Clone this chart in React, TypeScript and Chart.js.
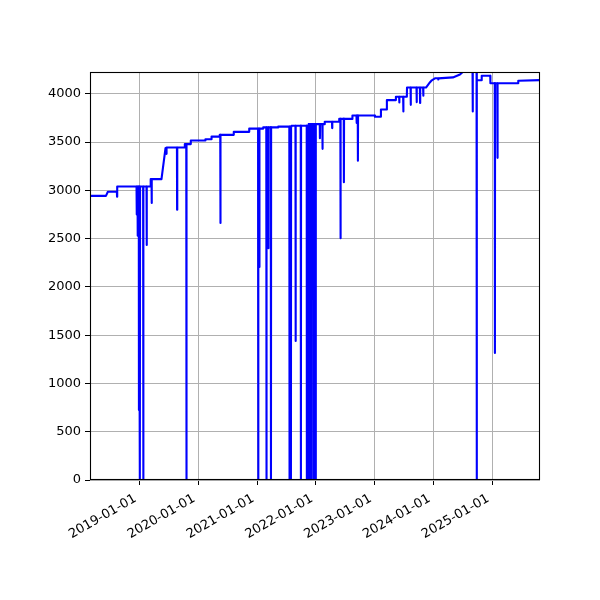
import React, { useEffect, useRef } from "react";
import { Chart, registerables } from "chart.js";

Chart.register(...registerables);

const dates: string[] = [
  "2018-02-28", "2018-06-07", "2018-06-19", "2018-08-14", "2018-08-15", "2018-08-16",
  "2018-12-14", "2018-12-15", "2018-12-16", "2018-12-20", "2018-12-21", "2018-12-22",
  "2018-12-28", "2018-12-29", "2018-12-30", "2019-01-03", "2019-01-04", "2019-01-05",
  "2019-01-24", "2019-01-25", "2019-01-26", "2019-02-14", "2019-02-15", "2019-02-16",
  "2019-03-11", "2019-03-12", "2019-03-17", "2019-03-18", "2019-03-19", "2019-05-18",
  "2019-06-12", "2019-06-17", "2019-06-18", "2019-06-19", "2019-08-22", "2019-08-23",
  "2019-08-24", "2019-10-09", "2019-10-10", "2019-10-19", "2019-10-20", "2019-10-21",
  "2019-11-15", "2019-11-16", "2020-02-14", "2020-02-15", "2020-03-23", "2020-03-24",
  "2020-05-13", "2020-05-14", "2020-05-17", "2020-05-18", "2020-05-19", "2020-08-08",
  "2020-08-09", "2020-11-12", "2020-11-13", "2021-01-07", "2021-01-08", "2021-01-09",
  "2021-01-14", "2021-01-15", "2021-01-16", "2021-02-07", "2021-02-08", "2021-02-27",
  "2021-02-28", "2021-03-01", "2021-03-11", "2021-03-12", "2021-03-13", "2021-03-27",
  "2021-03-28", "2021-03-29", "2021-05-11", "2021-05-12", "2021-07-20", "2021-07-21",
  "2021-07-22", "2021-07-29", "2021-07-30", "2021-07-31", "2021-08-02", "2021-08-03",
  "2021-08-27", "2021-08-28", "2021-08-29", "2021-09-29", "2021-09-30", "2021-10-01",
  "2021-11-05", "2021-11-06", "2021-11-07", "2021-11-14", "2021-11-15", "2021-11-18",
  "2021-11-19", "2021-11-20", "2021-11-26", "2021-11-27", "2021-11-28", "2021-12-03",
  "2021-12-04", "2021-12-05", "2021-12-10", "2021-12-11", "2021-12-12", "2021-12-17",
  "2021-12-18", "2021-12-19", "2021-12-23", "2021-12-24", "2021-12-25", "2021-12-30",
  "2021-12-31", "2022-01-01", "2022-01-25", "2022-01-26", "2022-01-27", "2022-02-10",
  "2022-02-11", "2022-02-12", "2022-02-24", "2022-02-25", "2022-04-11", "2022-04-12",
  "2022-04-13", "2022-05-25", "2022-05-26", "2022-06-02", "2022-06-03", "2022-06-04",
  "2022-06-23", "2022-06-24", "2022-06-25", "2022-08-15", "2022-08-16", "2022-09-10",
  "2022-09-11", "2022-09-12", "2022-09-18", "2022-09-19", "2022-09-20", "2023-01-02",
  "2023-01-03", "2023-02-08", "2023-02-09", "2023-03-17", "2023-03-18", "2023-05-12",
  "2023-05-13", "2023-06-02", "2023-06-03", "2023-06-04", "2023-06-27", "2023-06-28",
  "2023-06-29", "2023-07-20", "2023-07-21", "2023-08-12", "2023-08-13", "2023-08-14",
  "2023-09-18", "2023-09-19", "2023-09-20", "2023-10-09", "2023-10-10", "2023-10-11",
  "2023-10-29", "2023-10-30", "2023-10-31", "2023-11-16", "2023-12-11", "2023-12-22",
  "2024-01-13", "2024-01-30", "2024-01-31", "2024-02-01", "2024-05-01", "2024-06-14",
  "2024-07-01", "2024-08-31", "2024-09-01", "2024-09-02", "2024-09-25", "2024-09-26",
  "2024-09-27", "2024-10-26", "2024-10-27", "2024-12-19", "2024-12-20", "2025-01-16",
  "2025-01-17", "2025-01-18", "2025-02-01", "2025-02-02", "2025-02-03", "2025-06-10",
  "2025-06-11", "2025-10-24",
];

const values: number[] = [
  2943, 2943, 2985, 2985, 2935, 3040,
  3040, 2750, 3040, 3040, 2530, 3040,
  3040, 725, 3040, 3040, 0, 3040,
  3040, 0, 3040, 3040, 2435, 3040,
  3040, 3116, 3116, 2870, 3116, 3116,
  3437, 3437, 3378, 3444, 3444, 2800,
  3444, 3444, 3479, 3479, 0, 3479,
  3479, 3516, 3516, 3530, 3530, 3557,
  3557, 3575, 3575, 2663, 3575, 3575,
  3606, 3606, 3640, 3640, 0, 3640,
  3640, 2207, 3640, 3640, 3652, 3652,
  0, 3652, 3652, 2400, 3652, 3652,
  0, 3652, 3652, 3660, 3660, 0,
  3660, 3660, 0, 3660, 3660, 3670,
  3670, 1440, 3670, 3670, 0, 3670,
  3670, 0, 3670, 3670, 3686, 3686,
  0, 3686, 3686, 0, 3686, 3686,
  0, 3686, 3686, 2466, 3686, 3686,
  0, 3686, 3686, 0, 3686, 3686,
  0, 3686, 3686, 3541, 3686, 3686,
  3430, 3686, 3686, 3710, 3710, 3645,
  3710, 3710, 3740, 3740, 2505, 3740,
  3740, 3085, 3740, 3740, 3775, 3775,
  3697, 3775, 3775, 3306, 3775, 3775,
  3762, 3762, 3838, 3838, 3935, 3935,
  3970, 3970, 3910, 3970, 3970, 3817,
  3970, 3970, 4065, 4065, 3886, 4065,
  4065, 3914, 4065, 4065, 3905, 4065,
  4065, 3980, 4065, 4065, 4120, 4140,
  4162, 4162, 4148, 4160, 4170, 4200,
  4226, 4226, 3817, 4226, 4226, 0,
  4140, 4140, 4187, 4187, 4110, 4110,
  1316, 4110, 4110, 3337, 4110, 4110,
  4135, 4142,
];

const yTicks: number[] = [0, 500, 1000, 1500, 2000, 2500, 3000, 3500, 4000];
const xTickDates: string[] = [
  "2019-01-01", "2020-01-01", "2021-01-01", "2022-01-01",
  "2023-01-01", "2024-01-01", "2025-01-01",
];

const framePlugin = {
  id: "frame",
  afterDraw(chart: any) {
    const { ctx, chartArea } = chart;
    const l = Math.round(chartArea.left) + 0.5;
    const t = Math.round(chartArea.top) + 0.5;
    const r = Math.round(chartArea.right) - 0.5;
    const b = Math.round(chartArea.bottom) - 0.5;
    ctx.save();
    ctx.strokeStyle = "#000";
    ctx.lineWidth = 1.1;
    ctx.strokeRect(l, t, r - l, b - t);
    ctx.restore();
  },
};

const fmt = (v: number) => new Date(v).toISOString().slice(0, 10);

export default function App() {
  const ref = useRef<HTMLCanvasElement | null>(null);
  useEffect(() => {
    if (!ref.current) return;
    const pts = dates.map((d, i) => ({ x: Date.parse(d), y: values[i] }));
    const xMin = Date.parse(dates[0]);
    const xMax = Date.parse(dates[dates.length - 1]);
    const yMax = Math.max(...values);
    const font = { family: "'DejaVu Sans', sans-serif", size: 13 };
    const chart = new Chart(ref.current, {
      type: "line",
      data: {
        datasets: [
          {
            data: pts,
            borderColor: "#0000ff",
            borderWidth: 2.1,
            pointRadius: 0,
            tension: 0,
            fill: false,
            borderJoinStyle: "round",
          },
        ],
      },
      options: {
        animation: false,
        responsive: false,
        events: [],
        layout: { padding: { left: 0, right: 60, top: 72, bottom: 0 } },
        plugins: { legend: { display: false }, tooltip: { enabled: false } },
        scales: {
          x: {
            type: "linear",
            min: xMin,
            max: xMax,
            afterBuildTicks: (s: any) => {
              s.ticks = xTickDates.map((d) => ({ value: Date.parse(d) }));
            },
            afterFit: (s: any) => {
              s.height = 120;
            },
            ticks: {
              callback: (v: any) => fmt(Number(v)),
              minRotation: 30,
              maxRotation: 30,
              autoSkip: false,
              font,
              color: "#000",
              padding: 6,
              labelOffset: -4,
            },
            grid: {
              color: "#b0b0b0",
              lineWidth: 1,
              tickColor: "#000",
              tickLength: 5,
            },
            border: { display: false },
          },
          y: {
            type: "linear",
            min: 0,
            max: yMax,
            afterBuildTicks: (s: any) => {
              s.ticks = yTicks.map((v) => ({ value: v }));
            },
            afterFit: (s: any) => {
              s.width = 90;
            },
            ticks: {
              callback: (v: any) => String(v),
              font,
              color: "#000",
              padding: 4,
            },
            grid: {
              color: "#b0b0b0",
              lineWidth: 1,
              tickColor: "#000",
              tickLength: 5,
            },
            border: { display: false },
          },
        },
      },
      plugins: [framePlugin],
    } as any);
    return () => chart.destroy();
  }, []);
  return (
    <div style={{ position: "absolute", left: 0, top: 0, width: 600, height: 600, background: "#fff" }}>
      <canvas ref={ref} width={600} height={600} style={{ display: "block" }} />
    </div>
  );
}
